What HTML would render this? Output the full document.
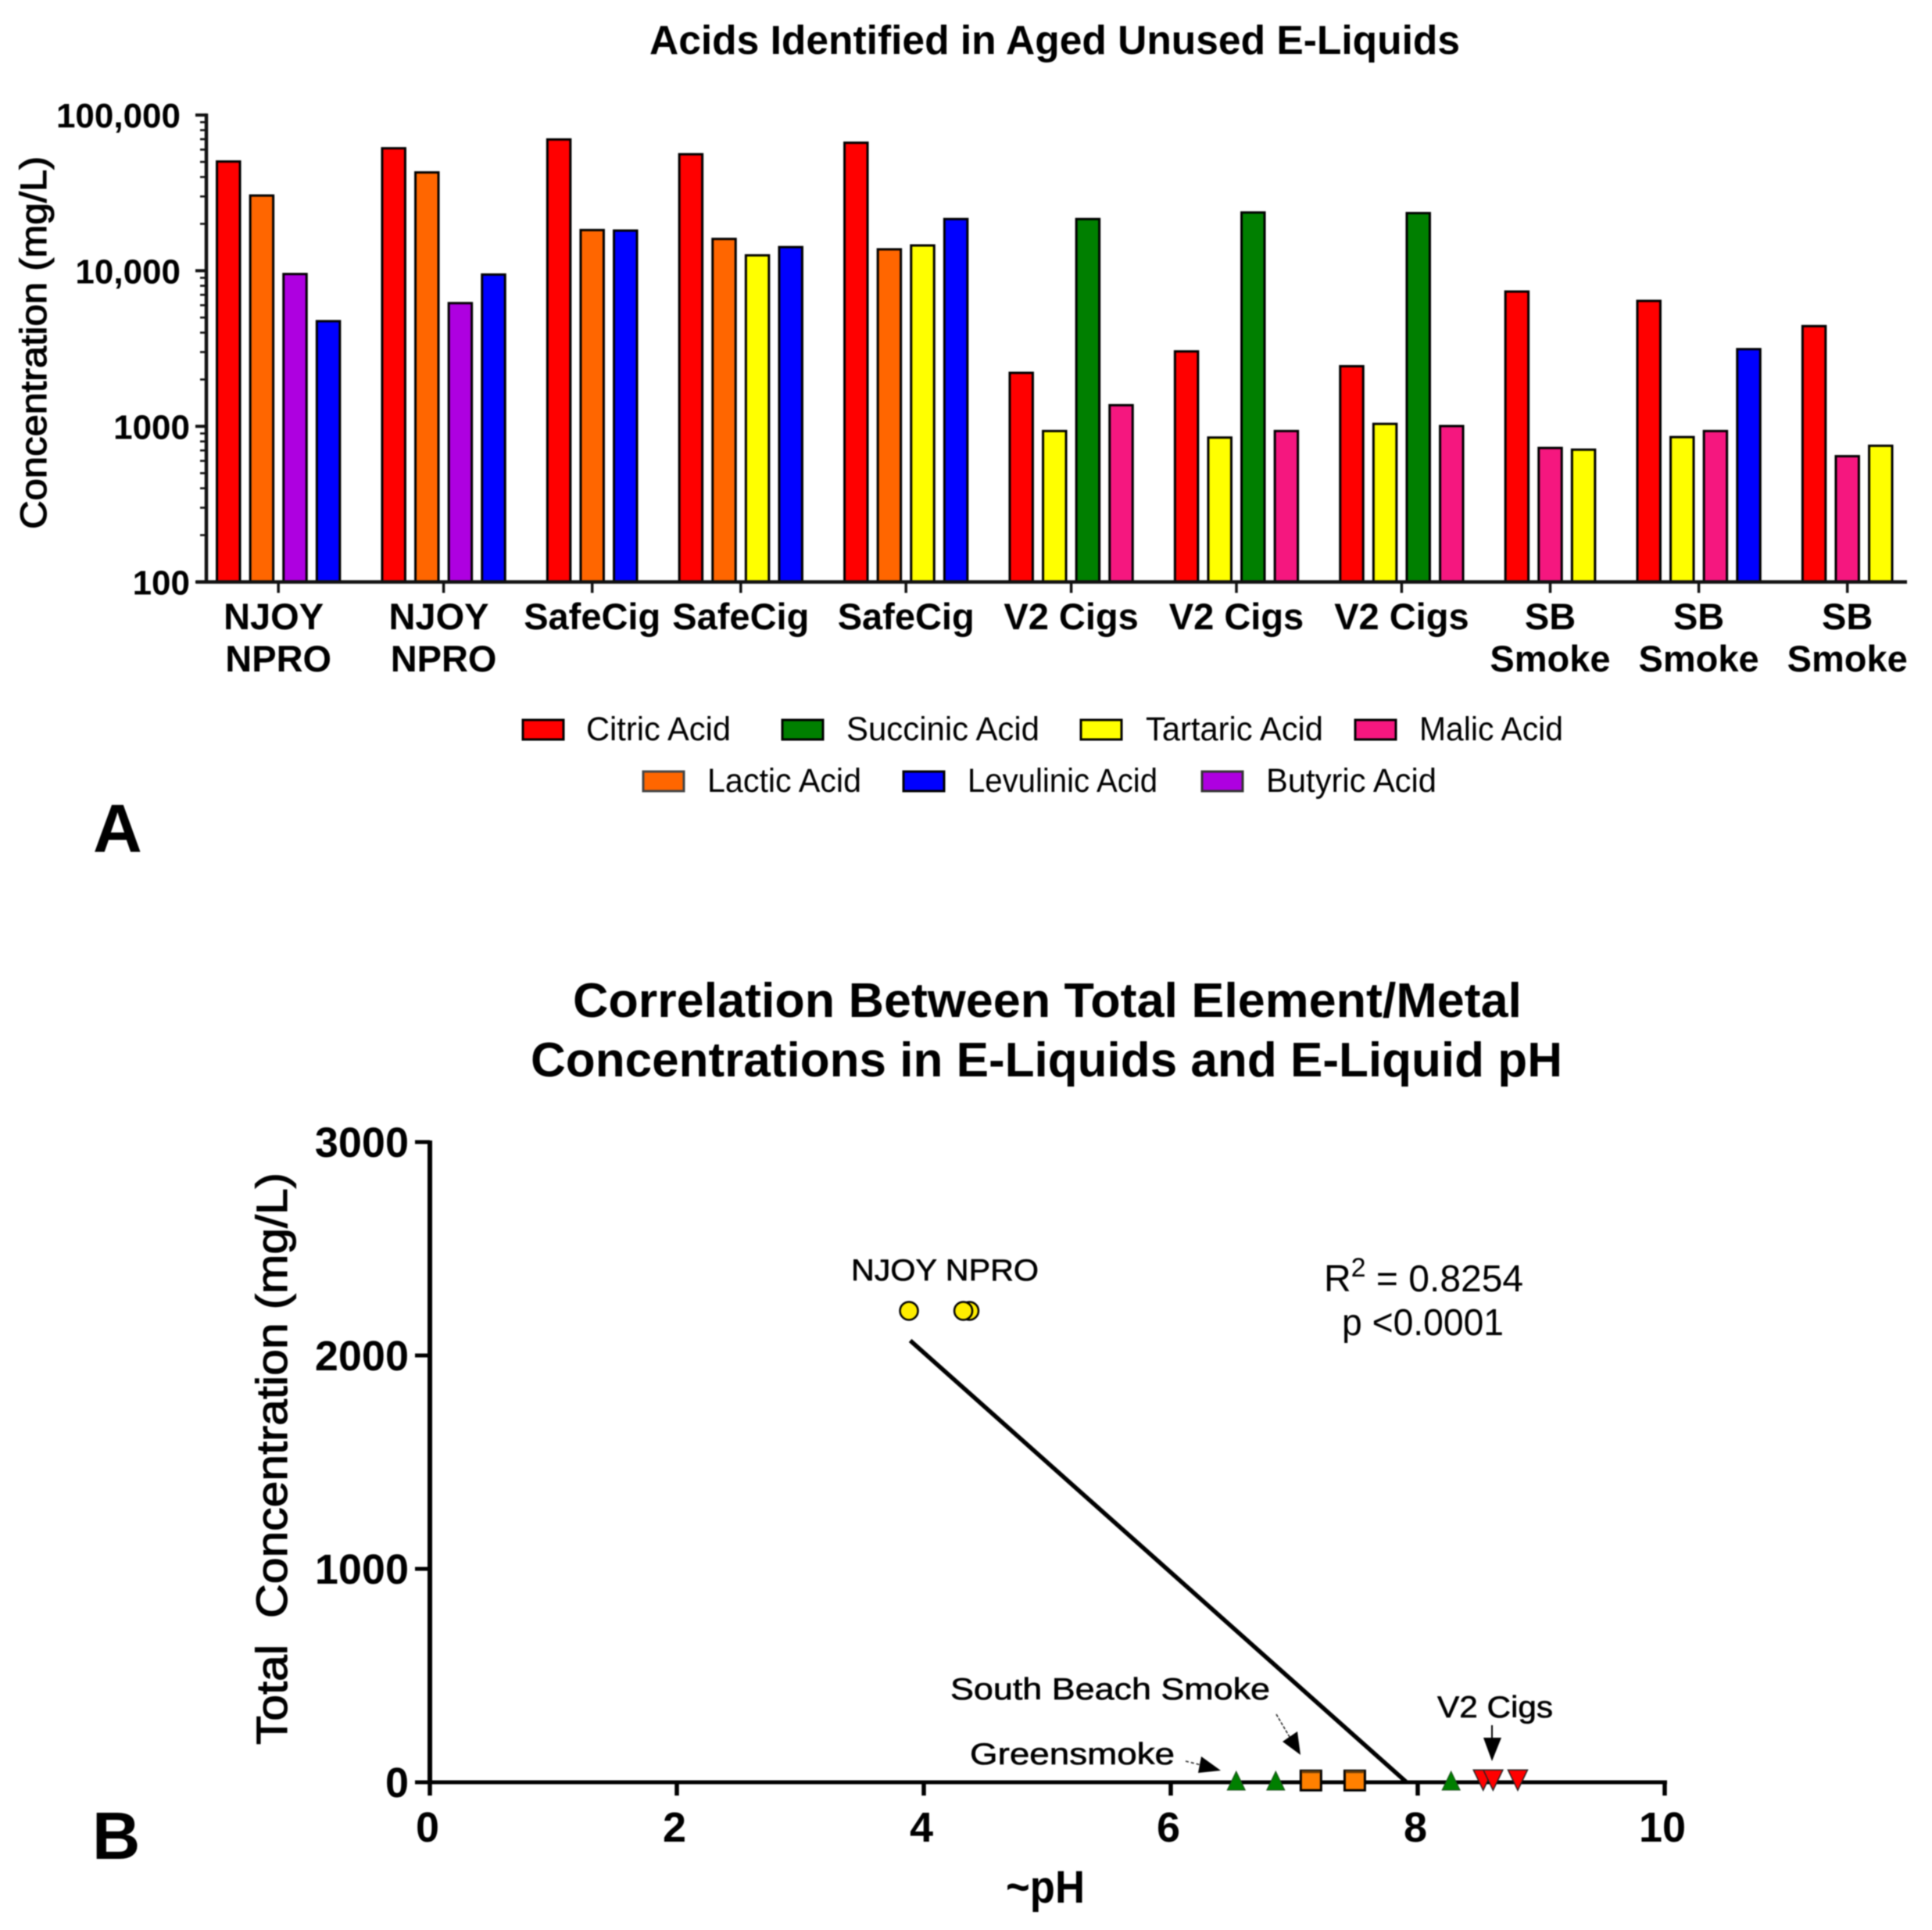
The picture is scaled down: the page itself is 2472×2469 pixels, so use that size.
<!DOCTYPE html>
<html lang="en">
<head>
<meta charset="utf-8">
<title>Acids and Total Element Concentrations in E-Liquids</title>
<style>
html,body{margin:0;padding:0;background:#fff;}
svg{display:block;filter:blur(0.85px);}
text{font-family:"Liberation Sans",Arial,sans-serif;fill:#000;white-space:pre;}
.b{font-weight:bold;}
</style>
</head>
<body>
<svg id="chart" xmlns="http://www.w3.org/2000/svg" width="2472" height="2469" viewBox="0 0 2472 2469">
  <rect x="0" y="0" width="2472" height="2469" fill="#ffffff"/>

  <text class="b" x="831" y="69" font-size="52" textLength="1037" lengthAdjust="spacingAndGlyphs">Acids Identified in Aged Unused E-Liquids</text>
  <text transform="translate(59,677) rotate(-90)" font-size="47" stroke="#000" stroke-width="1.1" textLength="477" lengthAdjust="spacingAndGlyphs">Concentration (mg/L)</text>
  <g id="panelA"></g>

  <g font-size="43">
    <g><rect x="669" y="921" width="52" height="25" fill="#ff0000" stroke="#000" stroke-width="3"/><text x="750" y="947" fill="#1a1a1a" textLength="185" lengthAdjust="spacingAndGlyphs">Citric Acid</text></g>
    <g><rect x="1001" y="921" width="52" height="25" fill="#007f00" stroke="#000" stroke-width="3"/><text x="1083" y="947" textLength="247" lengthAdjust="spacingAndGlyphs">Succinic Acid</text></g>
    <g><rect x="1383" y="921" width="52" height="25" fill="#ffff00" stroke="#000" stroke-width="3"/><text x="1466" y="947" textLength="227" lengthAdjust="spacingAndGlyphs">Tartaric Acid</text></g>
    <g><rect x="1734" y="921" width="52" height="25" fill="#f5177f" stroke="#000" stroke-width="3"/><text x="1816" y="947" textLength="184" lengthAdjust="spacingAndGlyphs">Malic Acid</text></g>
    <g><rect x="823" y="987" width="52" height="25" fill="#ff6600" stroke="#444" stroke-width="3"/><text x="905" y="1013" textLength="197" lengthAdjust="spacingAndGlyphs">Lactic Acid</text></g>
    <g><rect x="1156" y="987" width="52" height="25" fill="#0000ff" stroke="#000" stroke-width="3"/><text x="1238" y="1013" textLength="243" lengthAdjust="spacingAndGlyphs">Levulinic Acid</text></g>
    <g><rect x="1538" y="987" width="52" height="25" fill="#ae00e0" stroke="#333" stroke-width="3"/><text x="1620" y="1013" textLength="218" lengthAdjust="spacingAndGlyphs">Butyric Acid</text></g>
  </g>

  <text class="b" x="119" y="1090" font-size="87">A</text>

  <text class="b" x="733" y="1301" font-size="62" textLength="1214" lengthAdjust="spacingAndGlyphs">Correlation Between Total Element/Metal</text>
  <text class="b" x="679" y="1377" font-size="62" textLength="1320" lengthAdjust="spacingAndGlyphs">Concentrations in E-Liquids and E-Liquid pH</text>
  <text transform="translate(367,2232) rotate(-90)" font-size="56" stroke="#000" stroke-width="1.1" textLength="732" lengthAdjust="spacingAndGlyphs">Total  Concentration (mg/L)</text>
  <text class="b" x="1287" y="2434" font-size="58" textLength="101" lengthAdjust="spacingAndGlyphs">~pH</text>
  <g id="panelB"></g>

  <text x="1089" y="1638" font-size="39" stroke="#000" stroke-width="0.6" textLength="240" lengthAdjust="spacingAndGlyphs">NJOY NPRO</text>
  <text x="1694" y="1652" font-size="48">R<tspan dy="-19" font-size="34">2</tspan><tspan dy="19"> = 0.8254</tspan></text>
  <text x="1717" y="1708" font-size="48" textLength="207" lengthAdjust="spacingAndGlyphs">p &lt;0.0001</text>
  <text x="1216" y="2174" font-size="39" stroke="#000" stroke-width="0.6" textLength="409" lengthAdjust="spacingAndGlyphs">South Beach Smoke</text>
  <text x="1241" y="2257" font-size="39" stroke="#000" stroke-width="0.6" textLength="262" lengthAdjust="spacingAndGlyphs">Greensmoke</text>
  <text x="1839" y="2197" font-size="39" stroke="#000" stroke-width="0.6" textLength="148" lengthAdjust="spacingAndGlyphs">V2 Cigs</text>

  <g><line x1="1909" y1="2207" x2="1909" y2="2228" stroke="#000" stroke-width="2"/><polygon points="1898,2223 1921,2223 1909,2253" fill="#000"/></g>
  <g><line x1="1633" y1="2193" x2="1650" y2="2222" stroke="#222" stroke-width="1.6" stroke-dasharray="4 2"/><polygon points="1641,2228 1660,2215 1664,2245" fill="#000"/></g>
  <g><line x1="1517" y1="2253" x2="1537" y2="2258" stroke="#222" stroke-width="1.6" stroke-dasharray="4 3"/><polygon points="1537,2247 1533,2268 1562,2265" fill="#000"/></g>

  <text class="b" x="118" y="2378" font-size="85">B</text>
</svg>

<script>
// ---------- Panel A data (mg/L) ----------
var categories = ["NJOY \nNPRO","NJOY \nNPRO","SafeCig","SafeCig","SafeCig","V2 Cigs","V2 Cigs","V2 Cigs","SB\nSmoke","SB\nSmoke","SB\nSmoke"];
var citric    = [50300,61200,69700,56000,66400,2206,3030,2434,7345,6397,4405];
var lactic    = [30400,42800,18240,16000,13720,null,null,null,null,null,null];
var succinic  = [null,null,null,null,null,21470,23660,23450,null,null,null];
var levulinic = [4740,9450,18100,14180,21470,null,null,null,null,3133,null];
var tartaric  = [null,null,null,12550,14530,933,847,1037,708,853,750];
var malic     = [null,null,null,null,null,1367,933,1004,726,933,643];
var butyric   = [9520,6190,null,null,null,null,null,null,null,null,null];
var seriesOrder = [
  ["citric","lactic","butyric","levulinic"],
  ["citric","lactic","butyric","levulinic"],
  ["citric","lactic","levulinic"],
  ["citric","lactic","tartaric","levulinic"],
  ["citric","lactic","tartaric","levulinic"],
  ["citric","tartaric","succinic","malic"],
  ["citric","tartaric","succinic","malic"],
  ["citric","tartaric","succinic","malic"],
  ["citric","malic","tartaric"],
  ["citric","tartaric","malic","levulinic"],
  ["citric","malic","tartaric"]
];
var logTicks = [100,1000,10000,100000];
var logTickLabels = ["100","1000","10,000","100,000"];

// ---------- Panel B data ----------
var circlePH = [3.88,4.32,4.37];
var circleConc = [2209,2209,2209];
var trianglePH = [6.53,6.85,8.27];
var triangleConc = [0,0,0];
var squarePH = [7.135,7.49];
var squareConc = [10,10];
var invTrianglePH = [8.53,8.61,8.81];
var invTriangleConc = [10,10,10];
var fitPH = [3.89,7.91];
var fitConc = [2070,0];
var xTicksB = [0,2,4,6,8,10];
var yTicksB = [0,1000,2000,3000];

var seriesValues = {citric:citric,lactic:lactic,succinic:succinic,levulinic:levulinic,tartaric:tartaric,malic:malic,butyric:butyric};
var seriesColors = {citric:"#ff0000",lactic:"#ff6600",succinic:"#007f00",levulinic:"#0000ff",tartaric:"#ffff00",malic:"#f5177f",butyric:"#ae00e0"};

var NS = "http://www.w3.org/2000/svg";
function mk(parent, tag, attrs, txt) {
  var el = document.createElementNS(NS, tag);
  for (var k in attrs) el.setAttribute(k, attrs[k]);
  if (txt !== undefined) el.textContent = txt;
  parent.appendChild(el);
  return el;
}
var AXIS = "#111";

// ---------- Panel A ----------
var A = document.getElementById("panelA");
var aLeft = 264, aBase = 744.5, aDecade = 199.1;
function yA(v) { return aBase - aDecade * (Math.log10(v) - 2); }
var barPitch = 42.6, barWidth = 29.5, groupGap = 41, groupStart = 271;

var cursor = groupStart;
categories.forEach(function (cat, i) {
  var order = seriesOrder[i];
  order.forEach(function (s, j) {
    var v = seriesValues[s][i];
    if (v === null) return;
    var x = cursor + j * barPitch + (barPitch - barWidth) / 2;
    var bar = mk(A, "rect", {x: x, y: yA(v), width: barWidth, height: aBase - yA(v), fill: seriesColors[s], stroke: "#000", "stroke-width": 3});
    
    
  });
  var center = cursor + order.length * barPitch / 2;
  var tick = mk(A, "line", {x1: center, x2: center, y1: aBase, y2: aBase + 14, stroke: AXIS, "stroke-width": 3.5});
  
  
  var lines = cat.split("\n");
  lines.forEach(function (ln, k) {
    var t = mk(A, "text", {x: center, y: 805 + k * 54, "text-anchor": "middle", "font-size": 47, "class": "b"}, ln);
    
    
  });
  cursor += order.length * barPitch + groupGap;
});

var xAxisA = mk(A, "line", {x1: aLeft - 13, x2: 2440, y1: aBase, y2: aBase, stroke: AXIS, "stroke-width": 4.5});


var yAxisA = mk(A, "line", {x1: aLeft, x2: aLeft, y1: yA(logTicks[logTicks.length - 1]) - 2, y2: aBase, stroke: AXIS, "stroke-width": 4.5});



logTicks.forEach(function (v, i) {
  var tick = mk(A, "line", {x1: aLeft - 14, x2: aLeft, y1: yA(v), y2: yA(v), stroke: AXIS, "stroke-width": 4});
  
  
  var label = logTickLabels[i];
  var t = mk(A, "text", {x: label.length >= 6 ? 231 : 243, y: yA(v) + 16, "text-anchor": "end", "font-size": 44, "class": "b"}, label);
  
  
  if (i < logTicks.length - 1) {
    for (var m = 2; m <= 9; m++) {
      var mt = mk(A, "line", {x1: aLeft - 8, x2: aLeft, y1: yA(v * m), y2: yA(v * m), stroke: AXIS, "stroke-width": 2.6});
      
      
    }
  }
});

// ---------- Panel B ----------
var B = document.getElementById("panelB");
var bX0 = 550, bPerPH = 158, bY0 = 2280, bPerUnit = 0.2730;
function xB(ph) { return bX0 + ph * bPerPH; }
function yB(c) { return bY0 - c * bPerUnit; }

var xAxisB = mk(B, "line", {x1: xB(0) - 3, x2: xB(10) + 3, y1: bY0, y2: bY0, stroke: "#000", "stroke-width": 5});


var yAxisB = mk(B, "line", {x1: bX0, x2: bX0, y1: yB(3000) - 2, y2: bY0 + 2, stroke: "#000", "stroke-width": 6});



xTicksB.forEach(function (v) {
  var tick = mk(B, "line", {x1: xB(v), x2: xB(v), y1: bY0, y2: bY0 + 17, stroke: "#000", "stroke-width": 5.5});
  
  
  var t = mk(B, "text", {x: xB(v) - 3, y: 2356, "text-anchor": "middle", "font-size": 54, "class": "b"}, String(v));
  
  
});
yTicksB.forEach(function (v) {
  var tick = mk(B, "line", {x1: bX0 - 19, x2: bX0, y1: yB(v), y2: yB(v), stroke: "#000", "stroke-width": 5});
  
  
  var t = mk(B, "text", {x: 523, y: yB(v) + 19, "text-anchor": "end", "font-size": 54, "class": "b"}, String(v));
  
  
});

var fit = mk(B, "line", {x1: xB(fitPH[0]), y1: yB(fitConc[0]), x2: xB(fitPH[1]), y2: yB(fitConc[1]), stroke: "#000", "stroke-width": 5.5});



trianglePH.forEach(function (ph, i) {
  var x = xB(ph), y = yB(triangleConc[i]);
  var p = mk(B, "polygon", {points: (x - 11.5) + "," + (y + 10) + " " + (x + 11.5) + "," + (y + 10) + " " + x + "," + (y - 14), fill: "#007f00", stroke: "#1a4d1a", "stroke-width": 1});
  
  
});
squarePH.forEach(function (ph, i) {
  var x = xB(ph), y = yB(squareConc[i]);
  var p = mk(B, "rect", {x: x - 13, y: y - 12, width: 26, height: 25, fill: "#ff8000", stroke: "#000", "stroke-width": 3});
  
  
  var band = mk(B, "line", {x1: x - 12, x2: x + 12, y1: y - 10.5, y2: y - 10.5, stroke: "#6b3f0a", "stroke-width": 3});
  
  
});
invTrianglePH.forEach(function (ph, i) {
  var x = xB(ph), y = yB(invTriangleConc[i]);
  var p = mk(B, "polygon", {points: (x - 12.5) + "," + (y - 13) + " " + (x + 12.5) + "," + (y - 13) + " " + x + "," + (y + 13), fill: "#ff0000", stroke: "#222", "stroke-width": 1.5});
  
  
});
circlePH.slice().reverse().forEach(function (ph, i) {
  var c = circleConc[circleConc.length - 1 - i];
  var p = mk(B, "circle", {cx: xB(ph), cy: yB(c), r: 11.5, fill: "#ffee00", stroke: "#000", "stroke-width": 2.5});
  
  
});
</script>
</body>
</html>
